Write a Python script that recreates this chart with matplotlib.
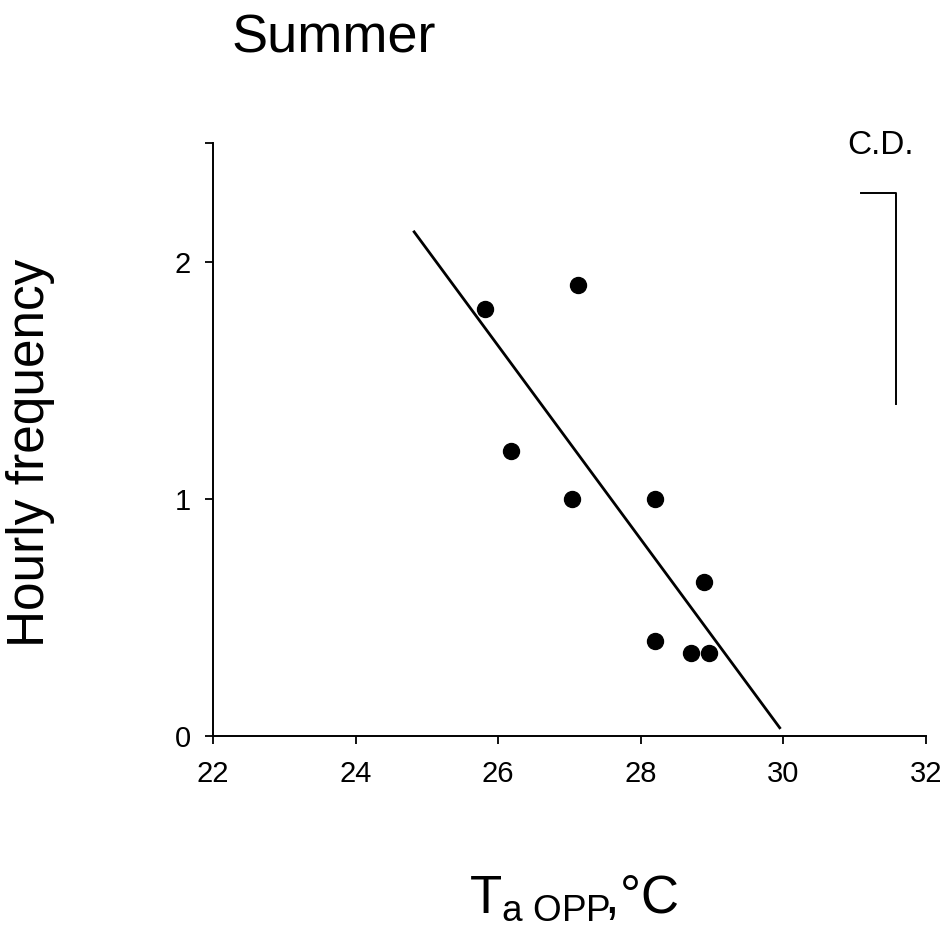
"""Summer: hourly frequency vs. operative air temperature, with linear fit and C.D. bar."""

import matplotlib
matplotlib.use("Agg")
import matplotlib.pyplot as plt

plt.rcParams["font.family"] = ["Liberation Sans", "DejaVu Sans"]
plt.rcParams["mathtext.fontset"] = "custom"
plt.rcParams["mathtext.rm"] = "Liberation Sans"
plt.rcParams["mathtext.it"] = "Liberation Sans"

# observed points
temp_c = [25.82, 27.12, 26.18, 27.03, 28.20, 28.88, 28.20, 28.71, 28.95]
hourly_freq = [1.80, 1.90, 1.20, 1.00, 1.00, 0.65, 0.40, 0.35, 0.35]

# fitted regression line (end points)
fit_x = [24.81, 29.96]
fit_y = [2.13, 0.03]

# critical difference bar
cd_x = [31.09, 31.58, 31.58]
cd_y = [2.29, 2.29, 1.40]

x_ticks = [22, 24, 26, 28, 30, 32]
y_ticks = [0, 1, 2, 2.5]
y_labels = ["0", "1", "2", ""]

fig = plt.figure(figsize=(9.47, 9.34), dpi=100)
ax = fig.add_axes([0.2249, 0.2120, 0.7529, 0.6349])

ax.plot(fit_x, fit_y, "k-", lw=2.0, solid_capstyle="butt")
ax.plot(temp_c, hourly_freq, "o", color="black", ms=11.5)
ax.plot(cd_x, cd_y, "k-", lw=1.4)
ax.text(31.36, 2.49, "C.D.", fontsize=24, ha="center", va="center")

ax.set_xlim(22, 32)
ax.set_ylim(0, 2.5)
ax.set_xticks(x_ticks)
ax.set_yticks(y_ticks)
ax.set_yticklabels(y_labels)
ax.tick_params(direction="out", length=6, width=1.3, labelsize=21)
ax.tick_params(axis="x", pad=11)
ax.tick_params(axis="y", pad=10)

for side in ("top", "right"):
    ax.spines[side].set_visible(False)
for side in ("left", "bottom"):
    ax.spines[side].set_linewidth(1.4)

fig.text(0.244, 0.9443, "Summer", fontsize=39, ha="left", va="baseline")
fig.text(0.606, 0.0225, r"T$_{\mathrm{a\ OPP}}\!$,°C", fontsize=38,
         ha="center", va="baseline")
fig.text(0.032, 0.515, "Hourly frequency", fontsize=37, rotation=90,
         ha="center", va="center")

fig.savefig("out.png", dpi=100)
